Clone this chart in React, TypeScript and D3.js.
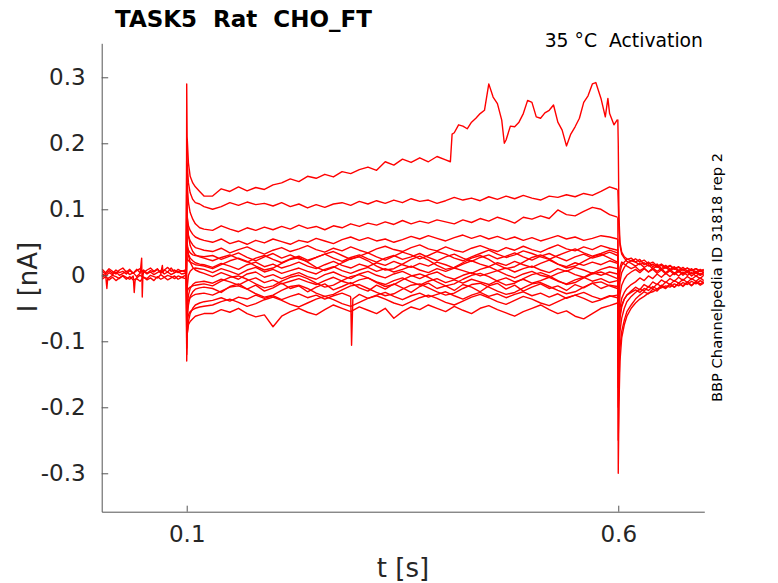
// Channelpedia activation recording: current traces for each voltage step
import React, { useEffect, useRef } from 'react';
import * as d3 from 'd3';

type Pt = [number, number];

const titleText = 'TASK5  Rat  CHO_FT';
const conditionText = '35 °C  Activation';
const sourceText = 'BBP Channelpedia ID 31818 rep 2';

const xTicks = [0.1, 0.6];
const yTicks = [-0.3, -0.2, -0.1, 0, 0.1, 0.2, 0.3];

const pulseStart = 0.1;
const holdLevel = 0.002;

// ---- pre-pulse baseline (s, nA)
const baseTimes = [
  0.002, 0.006, 0.01, 0.014, 0.018, 0.022, 0.026, 0.03, 0.034, 0.038, 0.042, 0.046, 0.05,
  0.054, 0.058, 0.062, 0.066, 0.07, 0.074, 0.078, 0.082, 0.086, 0.09, 0.094, 0.0985,
];
const baseA = [0.006, 0.002, 0.007, 0.003, 0.008, 0.004, 0.006, 0.002, 0.007, 0.003, 0.009, 0.004, 0.008, 0.003, 0.007, 0.005, 0.009, 0.004, 0.008, 0.012, 0.006, 0.008, 0.004, 0.007, 0.005];
const baseB = [-0.003, 0.001, -0.004, 0.0, -0.002, -0.005, 0.0, -0.003, -0.006, -0.001, -0.004, 0.0, -0.003, -0.005, 0.0, -0.002, -0.004, 0.001, -0.003, 0.0, -0.002, -0.005, -0.001, -0.003, 0.0];
const baseC = [0.002, -0.001, 0.004, 0.001, 0.005, 0.0, 0.003, 0.006, 0.001, 0.004, -0.002, 0.003, 0.006, 0.002, 0.005, 0.001, 0.004, 0.007, 0.002, 0.005, 0.001, 0.004, 0.006, 0.002, 0.003];
const baseD = [0.009, 0.004, 0.01, 0.006, 0.002, 0.008, 0.011, 0.005, 0.009, 0.003, 0.007, 0.01, 0.004, 0.008, 0.011, 0.006, 0.01, 0.003, 0.008, 0.005, 0.011, 0.004, 0.009, 0.006, 0.008];
const baseE = [-0.006, -0.002, -0.007, -0.003, -0.008, -0.004, -0.001, -0.006, -0.002, -0.007, -0.005, -0.009, -0.003, -0.007, -0.004, -0.008, -0.002, -0.006, -0.003, -0.007, -0.004, -0.001, -0.006, -0.003, -0.005];
const baseSpikesA: Pt[] = [[0.0718, 0.015], [0.0725, 0.004]];
const baseSpikesB: Pt[] = [[0.0075, -0.02], [0.0085, -0.004], [0.0392, -0.026], [0.0402, -0.008]];
const baseSpikesC: Pt[] = [[0.0478, 0.026], [0.0485, -0.033], [0.0492, -0.002]];

// ---- during the step
const pulseTimes = [
  0.1, 0.1005, 0.102, 0.104, 0.107, 0.11, 0.115, 0.12,
  0.13, 0.14, 0.15, 0.16, 0.17, 0.18, 0.19, 0.2, 0.21, 0.22,
  0.23, 0.24, 0.25, 0.26, 0.27, 0.28, 0.29, 0.3, 0.31, 0.32,
  0.33, 0.34, 0.35, 0.36, 0.37, 0.38, 0.39, 0.4, 0.41, 0.42,
  0.43, 0.44, 0.45, 0.46, 0.47, 0.48, 0.49, 0.5, 0.51, 0.52,
  0.53, 0.54, 0.55, 0.56, 0.57, 0.58, 0.59, 0.599,
];

const trace1 = [
  0.29, 0.21, 0.17, 0.15, 0.14, 0.134, 0.127, 0.12,
  0.12, 0.131, 0.127, 0.134, 0.128, 0.133, 0.13, 0.137, 0.14, 0.146,
  0.142, 0.15, 0.147, 0.153, 0.149, 0.157, 0.154, 0.16, 0.164, 0.159,
  0.172, 0.167, 0.176, 0.171, 0.178, 0.172, 0.18, 0.175, 0.216, 0.226,
  0.232, 0.245, 0.29, 0.26, 0.205, 0.225, 0.245, 0.262, 0.238, 0.25,
  0.232, 0.196, 0.225, 0.262, 0.29, 0.268, 0.245, 0.236,
];
const trace1Spikes: Pt[] = [
  [0.4055, 0.172], [0.4075, 0.214], [0.415, 0.228], [0.425, 0.222], [0.435, 0.238], [0.445, 0.25],
  [0.455, 0.27], [0.465, 0.235], [0.468, 0.2], [0.475, 0.226], [0.485, 0.232], [0.495, 0.265],
  [0.505, 0.24], [0.515, 0.246], [0.525, 0.258], [0.535, 0.22], [0.545, 0.214], [0.555, 0.238],
  [0.565, 0.272], [0.574, 0.292], [0.585, 0.24], [0.588, 0.268], [0.595, 0.228],
];
const trace2 = [
  0.2, 0.17, 0.14, 0.125, 0.115, 0.11, 0.108, 0.104,
  0.1, 0.104, 0.11, 0.106, 0.111, 0.107, 0.109, 0.105, 0.11, 0.104,
  0.108, 0.102, 0.107, 0.103, 0.108, 0.11, 0.106, 0.112, 0.108, 0.113,
  0.109, 0.114, 0.11, 0.116, 0.112, 0.114, 0.109, 0.113, 0.118, 0.114,
  0.117, 0.113, 0.119, 0.115, 0.12, 0.116, 0.121, 0.117, 0.114, 0.12,
  0.118, 0.122, 0.119, 0.124, 0.121, 0.127, 0.134, 0.13,
];
const trace3 = [
  0.17, 0.14, 0.11, 0.095, 0.085, 0.078, 0.072, 0.07,
  0.068, 0.075, 0.07, 0.066, 0.072, 0.068, 0.073, 0.069, 0.074, 0.07,
  0.076, 0.071, 0.074, 0.069, 0.075, 0.072, 0.078, 0.074, 0.079, 0.076,
  0.081, 0.077, 0.083, 0.078, 0.082, 0.079, 0.084, 0.081, 0.078, 0.084,
  0.08, 0.086, 0.082, 0.088, 0.084, 0.079, 0.088, 0.085, 0.09, 0.086,
  0.099, 0.092, 0.09, 0.097, 0.103, 0.1, 0.092, 0.088,
];
const trace4 = [
  0.14, 0.09, 0.075, 0.068, 0.062, 0.058, 0.055, 0.053,
  0.05, 0.055, 0.048, 0.052, 0.047, 0.053, 0.049, 0.055, 0.051, 0.047,
  0.053, 0.05, 0.056, 0.052, 0.048, 0.054, 0.058, 0.053, 0.057, 0.052,
  0.055, 0.05, 0.054, 0.059, 0.055, 0.06, 0.056, 0.052, 0.057, 0.061,
  0.056, 0.06, 0.055, 0.059, 0.054, 0.058, 0.053, 0.057, 0.052, 0.056,
  0.06, 0.055, 0.058, 0.053, 0.056, 0.06, 0.058, 0.055,
];
const band1 = [
  0.1, 0.075, 0.06, 0.052, 0.046, 0.042, 0.04, 0.038,
  0.036, 0.041, 0.034, 0.039, 0.043, 0.037, 0.032, 0.038, 0.042, 0.036,
  0.04, 0.045, 0.039, 0.035, 0.041, 0.037, 0.043, 0.038, 0.034, 0.04,
  0.044, 0.039, 0.036, 0.042, 0.046, 0.04, 0.037, 0.043, 0.038, 0.035,
  0.041, 0.045, 0.04, 0.036, 0.042, 0.038, 0.044, 0.039, 0.035, 0.041,
  0.046, 0.04, 0.037, 0.043, 0.039, 0.045, 0.041, 0.038,
];
const band2 = [
  0.15, 0.09, 0.06, 0.045, 0.036, 0.031, 0.028, 0.026,
  0.022, 0.027, 0.031, 0.025, 0.02, 0.026, 0.03, 0.024, 0.019, 0.025,
  0.029, 0.023, 0.027, 0.032, 0.026, 0.021, 0.027, 0.031, 0.025, 0.02,
  0.026, 0.03, 0.024, 0.028, 0.033, 0.027, 0.022, 0.028, 0.032, 0.026,
  0.021, 0.027, 0.031, 0.025, 0.029, 0.034, 0.028, 0.023, 0.029, 0.033,
  0.027, 0.022, 0.028, 0.032, 0.026, 0.03, 0.035, 0.03,
];
const band3 = [
  0.05, 0.04, 0.032, 0.026, 0.022, 0.019, 0.017, 0.016,
  0.012, 0.018, 0.014, 0.009, 0.016, 0.02, 0.013, 0.017, 0.011, 0.015,
  0.02, 0.014, 0.01, 0.016, 0.021, 0.015, 0.011, 0.017, 0.013, 0.019,
  0.015, 0.021, 0.016, 0.012, 0.018, 0.014, 0.02, 0.016, 0.011, 0.017,
  0.022, 0.017, 0.013, 0.019, 0.015, 0.021, 0.016, 0.012, 0.018, 0.023,
  0.017, 0.013, 0.019, 0.015, 0.02, 0.016, 0.022, 0.018,
];
const band4 = [
  -0.05, -0.02, 0.0, 0.006, 0.01, 0.011, 0.01, 0.009,
  0.004, 0.01, 0.006, 0.001, 0.008, 0.012, 0.005, 0.009, 0.003, 0.007,
  0.011, 0.006, 0.002, 0.009, 0.013, 0.007, 0.003, 0.008, 0.012, 0.006,
  0.01, 0.005, 0.009, 0.014, 0.008, 0.004, 0.01, 0.006, 0.011, 0.007,
  0.003, 0.009, 0.013, 0.007, 0.011, 0.005, 0.01, 0.014, 0.008, 0.004,
  0.01, 0.006, 0.012, 0.008, 0.003, 0.009, 0.013, 0.01,
];
const band5 = [
  0.08, 0.05, 0.03, 0.02, 0.012, 0.008, 0.005, 0.003,
  -0.002, 0.004, -0.001, -0.006, 0.002, 0.005, -0.003, 0.001, -0.005, 0.0,
  0.004, -0.002, -0.006, 0.001, 0.005, -0.001, -0.005, 0.002, 0.006, 0.0,
  -0.004, 0.002, 0.006, 0.0, -0.005, 0.001, 0.005, -0.002, -0.006, 0.0,
  0.004, -0.001, 0.003, 0.007, 0.001, -0.004, 0.002, 0.006, 0.0, -0.003,
  0.003, 0.007, 0.001, -0.003, 0.004, 0.0, 0.005, 0.002,
];
const band6 = [
  -0.08, -0.05, -0.03, -0.02, -0.014, -0.011, -0.01, -0.009,
  -0.012, -0.006, -0.01, -0.015, -0.008, -0.004, -0.011, -0.007, -0.013, -0.009,
  -0.005, -0.01, -0.014, -0.008, -0.003, -0.009, -0.013, -0.007, -0.004, -0.01,
  -0.014, -0.008, -0.004, -0.01, -0.015, -0.009, -0.005, -0.011, -0.007, -0.012,
  -0.006, -0.01, -0.014, -0.008, -0.004, -0.01, -0.006, -0.012, -0.008, -0.003,
  -0.009, -0.013, -0.007, -0.003, -0.009, -0.005, -0.011, -0.008,
];
const band7 = [
  -0.11, -0.07, -0.045, -0.032, -0.025, -0.021, -0.019, -0.018,
  -0.02, -0.026, -0.017, -0.013, -0.021, -0.015, -0.024, -0.019, -0.012, -0.02,
  -0.016, -0.025, -0.018, -0.013, -0.022, -0.017, -0.011, -0.019, -0.024, -0.015,
  -0.021, -0.013, -0.019, -0.026, -0.017, -0.012, -0.02, -0.016, -0.023, -0.014,
  -0.018, -0.025, -0.016, -0.012, -0.021, -0.015, -0.024, -0.018, -0.013, -0.02,
  -0.016, -0.023, -0.014, -0.019, -0.012, -0.02, -0.015, -0.017,
];
const band8 = [
  -0.06, -0.045, -0.038, -0.034, -0.031, -0.029, -0.028, -0.027,
  -0.03, -0.024, -0.018, -0.016, -0.021, -0.028, -0.033, -0.03, -0.023, -0.017,
  -0.015, -0.02, -0.027, -0.032, -0.029, -0.022, -0.016, -0.014, -0.02, -0.026,
  -0.031, -0.028, -0.021, -0.015, -0.013, -0.019, -0.025, -0.03, -0.027, -0.02,
  -0.014, -0.012, -0.018, -0.024, -0.029, -0.026, -0.019, -0.013, -0.011, -0.017,
  -0.023, -0.028, -0.025, -0.018, -0.012, -0.01, -0.016, -0.02,
];
const band9 = [
  -0.12, -0.09, -0.07, -0.058, -0.05, -0.045, -0.042, -0.04,
  -0.038, -0.034, -0.039, -0.033, -0.036, -0.03, -0.035, -0.031, -0.037, -0.032,
  -0.028, -0.034, -0.03, -0.036, -0.031, -0.027, -0.033, -0.029, -0.035, -0.03,
  -0.026, -0.032, -0.037, -0.031, -0.027, -0.033, -0.029, -0.025, -0.031, -0.036,
  -0.03, -0.026, -0.032, -0.028, -0.034, -0.029, -0.025, -0.031, -0.027, -0.033,
  -0.028, -0.035, -0.03, -0.026, -0.032, -0.036, -0.031, -0.034,
];
const band9Spikes: Pt[] = [[0.2895, -0.032], [0.291, -0.106], [0.2925, -0.036]];
const band10 = [
  -0.09, -0.07, -0.06, -0.055, -0.052, -0.05, -0.048, -0.047,
  -0.045, -0.04, -0.036, -0.041, -0.047, -0.043, -0.037, -0.033, -0.038, -0.044,
  -0.048, -0.042, -0.036, -0.032, -0.037, -0.043, -0.047, -0.041, -0.035, -0.031,
  -0.036, -0.042, -0.046, -0.04, -0.034, -0.03, -0.035, -0.041, -0.045, -0.039,
  -0.033, -0.029, -0.034, -0.04, -0.044, -0.038, -0.032, -0.036, -0.042, -0.046,
  -0.04, -0.034, -0.03, -0.035, -0.041, -0.037, -0.032, -0.03,
];
const band11 = [
  -0.13, -0.09, -0.075, -0.07, -0.066, -0.062, -0.06, -0.058,
  -0.058, -0.052, -0.056, -0.05, -0.058, -0.063, -0.06, -0.078, -0.062, -0.055,
  -0.05, -0.056, -0.06, -0.052, -0.045, -0.05, -0.055, -0.048, -0.053, -0.058,
  -0.05, -0.065, -0.055, -0.048, -0.052, -0.045, -0.05, -0.055, -0.047, -0.053,
  -0.058, -0.05, -0.046, -0.052, -0.057, -0.062, -0.055, -0.05, -0.045, -0.052,
  -0.058, -0.054, -0.062, -0.066, -0.058, -0.05, -0.046, -0.042,
];
const band12 = [
  0.03, 0.025, 0.022, 0.02, 0.018, 0.016, 0.015, 0.014,
  0.01, 0.016, 0.022, 0.026, 0.021, 0.014, 0.008, 0.011, 0.018, 0.024,
  0.027, 0.02, 0.012, 0.007, 0.012, 0.019, 0.025, 0.028, 0.022, 0.014,
  0.008, 0.01, 0.017, 0.024, 0.029, 0.023, 0.015, 0.009, 0.012, 0.019,
  0.026, 0.03, 0.024, 0.016, 0.01, 0.013, 0.02, 0.027, 0.031, 0.025,
  0.017, 0.011, 0.014, 0.021, 0.028, 0.032, 0.026, 0.02,
];
const band13 = [
  -0.03, -0.025, -0.02, -0.018, -0.016, -0.015, -0.014, -0.013,
  -0.016, -0.009, -0.003, -0.001, -0.006, -0.013, -0.019, -0.016, -0.009, -0.003,
  0.0, -0.005, -0.012, -0.018, -0.015, -0.008, -0.002, 0.001, -0.004, -0.011,
  -0.017, -0.014, -0.007, -0.001, 0.002, -0.003, -0.01, -0.016, -0.013, -0.006,
  0.0, 0.003, -0.002, -0.009, -0.015, -0.012, -0.005, 0.001, 0.004, -0.001,
  -0.008, -0.014, -0.011, -0.004, 0.002, 0.005, 0.0, -0.005,
];
const band14 = [
  0.06, 0.045, 0.038, 0.034, 0.031, 0.03, 0.029, 0.028,
  0.03, 0.024, 0.029, 0.034, 0.027, 0.022, 0.028, 0.033, 0.026, 0.031,
  0.025, 0.021, 0.027, 0.032, 0.036, 0.03, 0.024, 0.029, 0.034, 0.028,
  0.023, 0.029, 0.035, 0.031, 0.025, 0.03, 0.036, 0.032, 0.026, 0.022,
  0.028, 0.033, 0.038, 0.032, 0.027, 0.031, 0.037, 0.033, 0.028, 0.024,
  0.03, 0.035, 0.04, 0.034, 0.029, 0.033, 0.038, 0.034,
];

// ---- after the step (tail currents)
const tailTimes = [
  0.5995, 0.6, 0.6008, 0.602, 0.604, 0.607, 0.61, 0.615,
  0.62, 0.625, 0.63, 0.635, 0.64, 0.645, 0.65, 0.655, 0.66, 0.665,
  0.67, 0.675, 0.68, 0.685, 0.69, 0.695, 0.699,
];
const tail1 = [0.236, 0.2, 0.09, 0.05, 0.035, 0.028, 0.025, 0.022, 0.02, 0.016, 0.019, 0.014, 0.017, 0.012, 0.015, 0.011, 0.014, 0.009, 0.012, 0.008, 0.011, 0.007, 0.01, 0.006, 0.009];
const tail2 = [0.13, 0.11, 0.07, 0.045, 0.032, 0.026, 0.021, 0.018, 0.014, 0.018, 0.012, 0.016, 0.01, 0.014, 0.008, 0.012, 0.007, 0.011, 0.005, 0.009, 0.004, 0.008, 0.003, 0.007, 0.004];
const tail3 = [0.088, -0.04, -0.01, 0.012, 0.02, 0.017, 0.014, 0.01, 0.013, 0.007, 0.011, 0.005, 0.009, 0.003, 0.008, 0.002, 0.007, 0.001, 0.006, 0.0, 0.005, -0.001, 0.004, 0.0, 0.003];
const tail4 = [0.055, -0.3, -0.2, -0.13, -0.095, -0.075, -0.062, -0.05, -0.042, -0.036, -0.032, -0.027, -0.025, -0.021, -0.019, -0.016, -0.018, -0.013, -0.016, -0.011, -0.014, -0.009, -0.013, -0.008, -0.011];
const tail5 = [0.04, -0.25, -0.17, -0.11, -0.085, -0.068, -0.055, -0.045, -0.036, -0.03, -0.025, -0.028, -0.021, -0.024, -0.017, -0.02, -0.014, -0.018, -0.012, -0.016, -0.01, -0.015, -0.009, -0.013, -0.01];
const tail6 = [0.02, -0.2, -0.13, -0.085, -0.065, -0.05, -0.04, -0.032, -0.026, -0.021, -0.024, -0.017, -0.02, -0.013, -0.017, -0.01, -0.014, -0.008, -0.012, -0.006, -0.011, -0.005, -0.009, -0.004, -0.008];
const tail7 = [0.0, -0.17, -0.1, -0.065, -0.048, -0.036, -0.03, -0.024, -0.018, -0.022, -0.014, -0.018, -0.01, -0.014, -0.007, -0.011, -0.005, -0.009, -0.003, -0.008, -0.002, -0.006, -0.001, -0.005, 0.0];
const tail8 = [-0.03, -0.14, -0.08, -0.05, -0.035, -0.026, -0.02, -0.014, -0.01, -0.004, -0.008, -0.001, -0.005, 0.002, -0.003, 0.003, -0.002, 0.004, -0.001, 0.005, 0.0, 0.004, -0.001, 0.003, 0.001];
const tail9 = [-0.045, -0.11, -0.06, -0.03, -0.015, -0.006, 0.0, 0.005, 0.009, 0.004, 0.01, 0.005, 0.011, 0.006, 0.01, 0.004, 0.009, 0.003, 0.008, 0.002, 0.007, 0.002, 0.006, 0.001, 0.005];
const tail10 = [0.01, -0.08, -0.035, -0.01, 0.004, 0.012, 0.018, 0.022, 0.025, 0.02, 0.023, 0.017, 0.02, 0.014, 0.017, 0.012, 0.015, 0.01, 0.013, 0.008, 0.011, 0.007, 0.01, 0.006, 0.008];
const tail11 = [0.03, -0.06, -0.02, 0.005, 0.015, 0.02, 0.024, 0.026, 0.02, 0.024, 0.016, 0.02, 0.013, 0.017, 0.01, 0.015, 0.009, 0.013, 0.007, 0.012, 0.006, 0.01, 0.005, 0.009, 0.006];
const tail12 = [-0.02, -0.13, -0.09, -0.06, -0.045, -0.036, -0.03, -0.026, -0.022, -0.026, -0.02, -0.023, -0.017, -0.021, -0.015, -0.019, -0.013, -0.018, -0.012, -0.017, -0.011, -0.016, -0.01, -0.015, -0.012];

const W = 778;
const H = 583;
const FONT = '"DejaVu Sans", Verdana, sans-serif';

function toPoints(times: number[], values: number[], extra: Pt[] = []): Pt[] {
  const pts: Pt[] = values.map((v, i) => [times[i], v] as Pt);
  extra.forEach((p) => pts.push(p));
  pts.sort((a, b) => a[0] - b[0]);
  return pts;
}

const App: React.FC = () => {
  const svgRef = useRef<SVGSVGElement>(null);

  useEffect(() => {
    document.body.style.margin = '0';
    const svg = d3.select(svgRef.current);
    svg.selectAll('*').remove();

    const x = d3.scaleLinear().domain([0.0015, 0.6997]).range([101.7, 704.3]);
    const y = d3.scaleLinear().domain([-0.3582, 0.3515]).range([511.7, 43.3]);

    svg.append('rect').attr('width', W).attr('height', H).attr('fill', '#fff');

    svg
      .append('defs')
      .append('clipPath')
      .attr('id', 'plot-clip')
      .append('rect')
      .attr('x', x.range()[0])
      .attr('y', y.range()[1])
      .attr('width', x.range()[1] - x.range()[0])
      .attr('height', y.range()[0] - y.range()[1]);

    const baseline = [
      toPoints(baseTimes, baseA, baseSpikesA),
      toPoints(baseTimes, baseB, baseSpikesB),
      toPoints(baseTimes, baseC, baseSpikesC),
      toPoints(baseTimes, baseD),
      toPoints(baseTimes, baseE),
    ];
    const stepped: Pt[][] = [
      [trace1, trace1Spikes],
      [trace2, []],
      [trace3, []],
      [trace4, []],
      [band1, []],
      [band2, []],
      [band3, []],
      [band4, []],
      [band5, []],
      [band6, []],
      [band7, []],
      [band8, []],
      [band9, band9Spikes],
      [band10, []],
      [band11, []],
      [band12, []],
      [band13, []],
      [band14, []],
    ].map(([vals, spikes]) => {
      const pts = toPoints(pulseTimes, vals as number[], spikes as Pt[]);
      pts.unshift([pulseStart - 0.0004, holdLevel]);
      return pts;
    });
    const tails = [tail1, tail2, tail3, tail4, tail5, tail6, tail7, tail8, tail9, tail10, tail11, tail12].map((t) =>
      toPoints(tailTimes, t)
    );

    const line = d3
      .line<Pt>()
      .x((d) => x(d[0]))
      .y((d) => y(d[1]));

    const traces = svg.append('g').attr('clip-path', 'url(#plot-clip)');
    [...baseline, ...stepped, ...tails].forEach((pts) => {
      traces
        .append('path')
        .datum(pts)
        .attr('fill', 'none')
        .attr('stroke', '#ff0000')
        .attr('stroke-width', 1.4)
        .attr('stroke-linejoin', 'round')
        .attr('d', line);
    });

    // axes, MATLAB style: ticks point inwards, no box
    const yAxis = d3
      .axisLeft(y)
      .tickValues(yTicks)
      .tickSizeInner(-6.5)
      .tickSizeOuter(0)
      .tickPadding(16)
      .tickFormat((d) => String(Math.round((d as number) * 10) / 10));
    const gy = svg.append('g').attr('transform', `translate(${x.range()[0]},0)`).call(yAxis);

    const xAxis = d3
      .axisBottom(x)
      .tickValues(xTicks)
      .tickSizeInner(-6)
      .tickSizeOuter(0)
      .tickPadding(14)
      .tickFormat((d) => String(d));
    const gx = svg.append('g').attr('transform', `translate(0,${y.range()[0]})`).call(xAxis);

    [gx, gy].forEach((g) => {
      g.select('.domain').attr('stroke', '#555').attr('stroke-width', 1);
      g.selectAll('.tick line').attr('stroke', '#555').attr('stroke-width', 1);
      g.selectAll('.tick text')
        .attr('fill', '#262626')
        .style('font-family', FONT)
        .style('font-size', '23px');
    });

    const label = (txt: string) =>
      svg.append('text').style('font-family', FONT).style('white-space', 'pre').text(txt);

    label('t [s]')
      .attr('x', 403)
      .attr('y', 577)
      .attr('text-anchor', 'middle')
      .attr('fill', '#262626')
      .style('font-size', '26px');

    label('I [nA]')
      .attr('transform', 'translate(37,277) rotate(-90)')
      .attr('text-anchor', 'middle')
      .attr('fill', '#262626')
      .style('font-size', '26px');

    label(titleText)
      .attr('x', 115)
      .attr('y', 27)
      .attr('fill', '#000')
      .style('font-size', '23px')
      .style('font-weight', 'bold');

    label(conditionText)
      .attr('x', 703)
      .attr('y', 47.3)
      .attr('text-anchor', 'end')
      .attr('fill', '#000')
      .style('font-size', '18.8px');

    label(sourceText)
      .attr('transform', 'translate(721.5,277.5) rotate(-90)')
      .attr('text-anchor', 'middle')
      .attr('fill', '#000')
      .style('font-size', '14.7px');
  }, []);

  return <svg ref={svgRef} width={W} height={H} style={{ display: 'block' }} />;
};

export default App;
